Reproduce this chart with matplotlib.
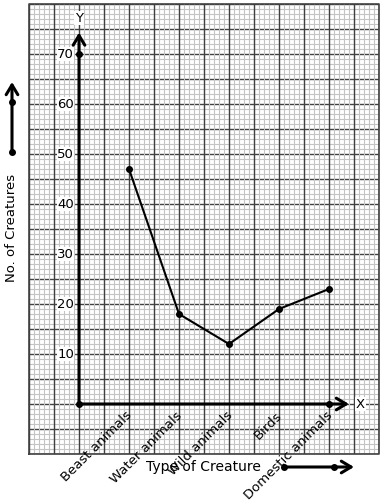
import matplotlib
matplotlib.use("Agg")
import matplotlib.pyplot as plt
import numpy as np

categories = ["Beast animals", "Water animals", "Wild animals", "Birds", "Domestic animals"]
values = [47, 18, 12, 19, 23]
y_ticks = [10, 20, 30, 40, 50, 60, 70]
x_label = "Type of Creature"
y_label = "No. of Creatures"

fig = plt.figure(figsize=(3.84, 5.03), dpi=100)
ax = fig.add_axes([29/384, 1-454/503, 350/384, 450/503])
xmin, xmax, ymin, ymax = -1, 6, -10, 80
ax.set_xlim(xmin, xmax)
ax.set_ylim(ymin, ymax)
ax.set_xticks([]); ax.set_yticks([])
for s in ax.spines.values():
    s.set_visible(False)

dark = "#404040"
light = "#c4c4c4"
# horizontal major lines (every 5 units)
for yv in np.arange(ymin, ymax + 0.01, 5):
    ax.axhline(yv, color=dark, lw=1.0, zorder=1)
# minor lines
for xv in np.arange(xmin, xmax + 0.001, 0.1):
    ax.axvline(xv, color=light, lw=0.8, zorder=2)
for yv in np.arange(ymin, ymax + 0.01, 1):
    if abs(yv % 5) > 1e-6:
        ax.axhline(yv, color=light, lw=0.8, zorder=2)
# vertical major lines (every 0.5 units)
for xv in np.arange(xmin, xmax + 0.001, 0.5):
    ax.axvline(xv, color=dark, lw=1.0, zorder=3)
# frame
ax.plot([xmin, xmax, xmax, xmin, xmin], [ymin, ymin, ymax, ymax, ymin], color=dark, lw=1.2, zorder=3, clip_on=False)

arrow_kw = dict(arrowstyle="->,head_length=0.5,head_width=0.3", lw=2.2, color="black",
                mutation_scale=14, shrinkA=0, shrinkB=0)

# axes with arrows
ax.annotate("", xy=(0, 74.3), xytext=(0, 0), arrowprops=arrow_kw, zorder=5)
ax.annotate("", xy=(5.4, 0), xytext=(0, 0), arrowprops=arrow_kw, zorder=5)
ax.plot([0, 0, 5], [0, 70, 0], "o", color="black", ms=4, zorder=6, ls="none")
ax.text(0, 77.2, "Y", ha="center", va="center", fontsize=9.5, zorder=7,
        bbox=dict(facecolor="white", edgecolor="none", pad=0.5))
ax.text(5.54, 0, "X", ha="left", va="center", fontsize=9.5, zorder=7,
        bbox=dict(facecolor="white", edgecolor="none", pad=0.5))

for t in y_ticks:
    ax.text(-0.1, t, str(t), ha="right", va="center", fontsize=9.5, zorder=7,
            bbox=dict(facecolor="white", edgecolor="none", pad=0.3))

xs = np.arange(1, len(categories) + 1)
ax.plot(xs, values, "-o", color="black", lw=1.5, ms=4, zorder=6)

for x, c in zip(xs, categories):
    ax.text(x + 0.12, -1.0, c, rotation=45, ha="right", va="top", fontsize=9.5, zorder=7)

ax.text(2.48, -12.6, x_label, ha="center", va="center", fontsize=10, zorder=7, clip_on=False)
ax.text(-1.34, 35.2, y_label, ha="center", va="center", rotation=90, fontsize=9.5, clip_on=False)

# scale indicator arrows
ax.annotate("", xy=(-1.34, 64.4), xytext=(-1.34, 50.4), annotation_clip=False, arrowprops=arrow_kw)
ax.plot([-1.34, -1.34], [50.4, 60.4], "o", color="black", ms=4, clip_on=False, ls="none")
ax.annotate("", xy=(5.5, -12.6), xytext=(4.1, -12.6), annotation_clip=False, arrowprops=arrow_kw)
ax.plot([4.1, 5.1], [-12.6, -12.6], "o", color="black", ms=4, clip_on=False, ls="none")

fig.savefig("out.png", dpi=100)
